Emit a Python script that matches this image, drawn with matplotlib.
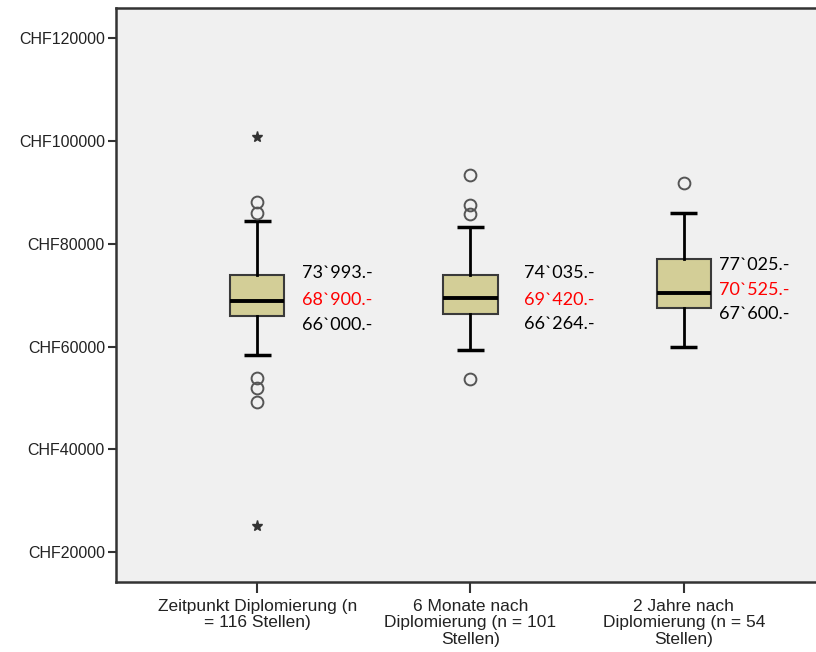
import numpy as np
import matplotlib.pyplot as plt

# values
groups = ['Zeitpunkt Diplomierung (n\n= 116 Stellen)',
          '6 Monate nach\nDiplomierung (n = 101\nStellen)',
          '2 Jahre nach\nDiplomierung (n = 54\nStellen)']
q1 = [66000, 66264, 67600]
med = [68900, 69420, 70525]
q3 = [73993, 74035, 77025]
whislo = [58400, 59300, 59900]
whishi = [84500, 83300, 86000]
outliers = [[88200, 86100, 53900, 51900, 49300],
            [93400, 87600, 85800, 53800],
            [91800]]
extremes = [[100800, 25100], [], []]

q3_lbl = ['73`993.-', '74`035.-', '77`025.-']
med_lbl = ['68`900.-', '69`420.-', '70`525.-']
q1_lbl = ['66`000.-', '66`264.-', '67`600.-']

fig = plt.figure(figsize=(8.16, 6.52), dpi=100)
ax = fig.add_axes([116/816, 70/652, 1 - 116/816, (582-8)/652])
ax.set_facecolor('#f0f0f0')

stats = []
for i in range(3):
    stats.append(dict(med=med[i], q1=q1[i], q3=q3[i], whislo=whislo[i],
                      whishi=whishi[i], fliers=outliers[i]))

ax.bxp(stats, positions=[1, 2, 3], widths=0.255, patch_artist=True,
       boxprops=dict(facecolor='#d3ce97', edgecolor='#3a3a3a', linewidth=1.5),
       medianprops=dict(color='black', linewidth=2.8, solid_capstyle='butt'),
       whiskerprops=dict(color='black', linewidth=2),
       capprops=dict(color='black', linewidth=2.5, solid_capstyle='butt'),
       capwidths=0.125,
       flierprops=dict(marker='o', markersize=8.5, markerfacecolor='none',
                       markeredgecolor='#555555', markeredgewidth=1.4))

for i, ext in enumerate(extremes):
    if ext:
        ax.plot([i + 1] * len(ext), ext, linestyle='none', marker='*',
                markersize=8, color='#333333')

# annotation positions (x, y centers) per box
txt_x = [1.21, 2.25, 3.165]
txt_y = [[74300, 69100, 64300], [74300, 69100, 64400], [75900, 71000, 66300]]
for i in range(3):
    ax.text(txt_x[i], txt_y[i][0], q3_lbl[i], fontsize=13, family='Lato',
            va='center', ha='left', color='black')
    ax.text(txt_x[i], txt_y[i][1], med_lbl[i], fontsize=13, family='Lato',
            va='center', ha='left', color='red')
    ax.text(txt_x[i], txt_y[i][2], q1_lbl[i], fontsize=13, family='Lato',
            va='center', ha='left', color='black')

ax.set_xlim(0.338, 3.62)
ax.set_ylim(14200, 125900)
ticks = [20000, 40000, 60000, 80000, 100000, 120000]
ax.set_yticks(ticks)
ax.set_yticklabels(['CHF%d' % v for v in ticks],
                   family='Liberation Sans', fontsize=11.5, color='#222222')
ax.set_xticks([1, 2, 3])
ax.set_xticklabels(groups, family='Liberation Sans', fontsize=12.5,
                   color='#222222', linespacing=1.12)
ax.tick_params(axis='y', direction='out', length=6, width=1.5, color='#333333', pad=2)
ax.tick_params(axis='x', direction='out', length=8, width=1.5, color='#333333', pad=4)

for s in ['left', 'bottom', 'top']:
    ax.spines[s].set_color('#333333')
    ax.spines[s].set_linewidth(1.8)
ax.spines['right'].set_visible(False)

fig.savefig('out.png', dpi=100)
